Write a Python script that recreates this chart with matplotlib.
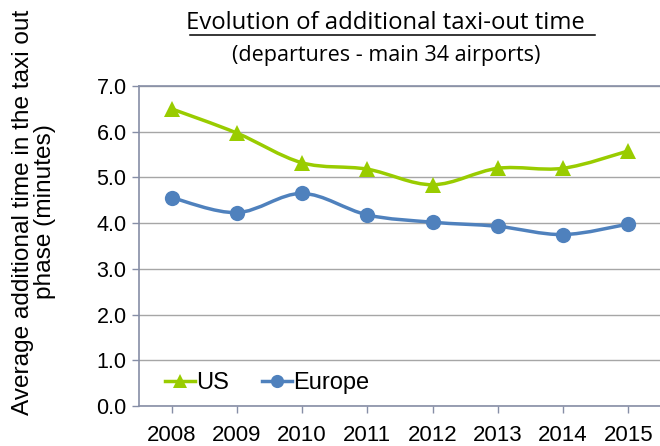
import matplotlib.pyplot as plt
from matplotlib.path import Path
from matplotlib.patches import PathPatch
from matplotlib.lines import Line2D

years = ["2008", "2009", "2010", "2011", "2012", "2013", "2014", "2015"]
us = [6.50, 5.97, 5.32, 5.18, 4.84, 5.20, 5.20, 5.58]
europe = [4.56, 4.23, 4.65, 4.18, 4.02, 3.93, 3.75, 3.98]

GREEN = "#99cc00"
BLUE = "#4f81bd"
AXIS = "#868ea6"
GRID = "#a6a6a6"


def smooth_path(xs, ys):
    # Excel-style smoothed line: cubic Bezier segments through every point
    pts = list(zip(xs, ys))
    n = len(pts)
    verts = [pts[0]]
    codes = [Path.MOVETO]
    for i in range(n - 1):
        p0 = pts[i - 1] if i > 0 else pts[i]
        p1 = pts[i]
        p2 = pts[i + 1]
        p3 = pts[i + 2] if i + 2 < n else pts[i + 1]
        c1 = (p1[0] + (p2[0] - p0[0]) / 6, p1[1] + (p2[1] - p0[1]) / 6)
        c2 = (p2[0] - (p3[0] - p1[0]) / 6, p2[1] - (p3[1] - p1[1]) / 6)
        verts += [c1, c2, p2]
        codes += [Path.CURVE4] * 3
    return Path(verts, codes)


plt.rcParams["font.family"] = ["Liberation Sans", "DejaVu Sans"]

fig = plt.figure(figsize=(6.6, 4.46), dpi=100)
ax = fig.add_axes([139 / 660, 40 / 446, 522 / 660, 320 / 446])

xs = list(range(len(years)))
for vals, col, mk, ms in [(us, GREEN, "^", 11.5), (europe, BLUE, "o", 11)]:
    ax.add_patch(PathPatch(smooth_path(xs, vals), fill=False, edgecolor=col,
                           linewidth=2.5, capstyle="round", zorder=3))
    ax.plot(xs, vals, linestyle="none", marker=mk, markersize=ms,
            color=col, markeredgewidth=0, zorder=4)

ax.set_xlim(-0.5, 7.5)
ax.set_ylim(0, 7)
ax.set_yticks([i for i in range(8)])
ax.set_yticklabels([f"{i:.1f}" for i in range(8)])
ax.set_xticks(xs)
ax.set_xticklabels(years)
ax.tick_params(axis="both", labelsize=15.5, colors=AXIS, labelcolor="black",
               length=5, width=1, direction="out", pad=4)
ax.tick_params(axis="x", labelsize=16, pad=9)
ax.grid(axis="y", color=GRID, linewidth=1)
ax.set_axisbelow(True)
for side in ["left", "bottom", "top"]:
    ax.spines[side].set_color(AXIS)
    ax.spines[side].set_linewidth(1.2)
ax.spines["right"].set_visible(False)

handles = [Line2D([], [], color=GREEN, marker="^", markersize=10, linewidth=2.5, markeredgewidth=0),
           Line2D([], [], color=BLUE, marker="o", markersize=9.5, linewidth=2.5, markeredgewidth=0)]
ax.legend(handles, ["US", "Europe"], loc="lower left", bbox_to_anchor=(0.01, -0.03),
          ncol=2, frameon=False, fontsize=17, handlelength=1.25, handletextpad=0.05,
          columnspacing=1.4)

fig.text(34 / 660, 1 - 212 / 446,
         "Average additional time in the taxi out\nphase (minutes)",
         rotation=90, ha="center", va="center", multialignment="center",
         fontsize=17.6, linespacing=1.05)

fig.text(389 / 660, 1 - 23 / 446, "Evolution of additional taxi-out time ",
         ha="center", va="center", fontsize=17.2, family=["Open Sans", "DejaVu Sans"])
fig.text(386 / 660, 1 - 55 / 446, "(departures - main 34 airports)",
         ha="center", va="center", fontsize=15.5, family=["Open Sans", "DejaVu Sans"])
fig.add_artist(Line2D([190 / 660, 595 / 660], [1 - 35 / 446, 1 - 35 / 446],
                      color="black", linewidth=1.1))

fig.savefig("out.png", dpi=100, facecolor="white")
